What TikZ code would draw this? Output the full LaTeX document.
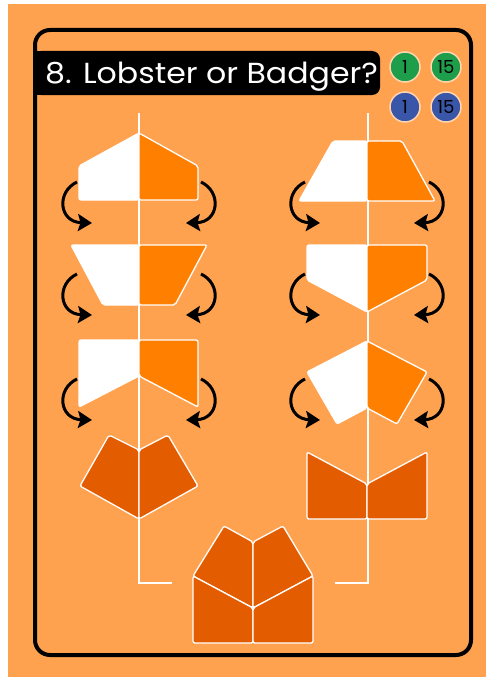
\documentclass[tikz,border=0pt]{standalone}
\usepackage{fontspec}
\setmainfont{Poppins}
\usetikzlibrary{arrows.meta}
\definecolor{cardbg}{RGB}{255,162,80}
\definecolor{halforange}{RGB}{255,128,0}
\definecolor{darkorange}{RGB}{228,92,0}
\definecolor{mygreen}{RGB}{30,158,74}
\definecolor{myblue}{RGB}{58,86,168}
\tikzstyle{whitehalf}  = [fill=white, draw=white, line width=1.3pt, rounded corners=2pt, line join=round]
\tikzstyle{orangehalf} = [fill=halforange, draw=white, line width=1.3pt, rounded corners=2pt, line join=round]
\tikzstyle{donepiece}  = [fill=darkorange, draw=white, line width=1.3pt, rounded corners=2pt, line join=round]
\tikzstyle{mirror}     = [draw=white, line width=2pt]
\tikzstyle{flip}       = [-{Stealth[length=14pt,width=17pt,inset=2.5pt]}, line width=3pt, black]
\tikzstyle{badge}      = [circle, minimum size=30pt, inner sep=0pt, draw=white!55!cardbg, line width=1.5pt]

% pair of turn arrows round a column centre #1, starting at height #2
\newcommand{\flips}[2]{%
  \draw[flip] (#1-62,#2) .. controls (#1-83,#2+10) and (#1-80,#2+40) .. (#1-47,#2+41);
  \draw[flip] (#1+62,#2) .. controls (#1+83,#2+10) and (#1+80,#2+40) .. (#1+47,#2+41);
}

\begin{document}
\begin{tikzpicture}[x=1pt, y=-1pt]
    \useasboundingbox (0,0) rectangle (486,677);
    \fill[cardbg] (8,4) rectangle (486,677);

    % title bar
    \fill[black, rounded corners=8pt] (33,51) rectangle (380,95);
    \fill[black] (33,51) rectangle (60,95);
    \node[text=white, anchor=base west, inner sep=0pt, font=\fontsize{29}{29}\selectfont] (title) at (45,83)
        {\scalebox{1.09}[1]{8. Lobster or Badger?}};

    \node[badge, fill=mygreen] (g1) at (405,67)  {\fontsize{18}{18}\selectfont 1};
    \node[badge, fill=mygreen] (g15) at (446,67) {\fontsize{18}{18}\selectfont 15};
    \node[badge, fill=myblue]  (b1) at (405,107) {\fontsize{18}{18}\selectfont 1};
    \node[badge, fill=myblue]  (b15) at (446,107) {\fontsize{18}{18}\selectfont 15};

    % mirror lines
    \draw[mirror] (139,113) -- (139,583) -- (172,583);
    \draw[mirror] (368,113) -- (368,583) -- (335,583);

    % left column
    \filldraw[whitehalf]  (139,133) -- (79,166) -- (79,200) -- (139,200) -- cycle;
    \filldraw[orangehalf] (139,133) -- (198,166) -- (198,200) -- (139,200) -- cycle;
    \flips{139}{182}

    \filldraw[whitehalf]  (139,245) -- (71,245) -- (103,305) -- (139,305) -- cycle;
    \filldraw[orangehalf] (139,245) -- (207,245) -- (175,305) -- (139,305) -- cycle;
    \flips{139}{274}

    \filldraw[whitehalf]  (139,340) -- (79,340) -- (79,407) -- (139,376) -- cycle;
    \filldraw[orangehalf] (139,340) -- (198,340) -- (198,407) -- (139,376) -- cycle;
    \flips{139}{379}

    \filldraw[donepiece] (109,435) -- (139,450) -- (139,519) -- (80,486) -- cycle;
    \filldraw[donepiece] (168,435) -- (139,450) -- (139,519) -- (198,486) -- cycle;

    % right column
    \filldraw[whitehalf]  (367,141) -- (333,141) -- (299,201) -- (367,201) -- cycle;
    \filldraw[orangehalf] (367,141) -- (402,141) -- (435,201) -- (367,201) -- cycle;
    \flips{367}{182}

    \filldraw[whitehalf]  (367,245) -- (307,245) -- (307,280) -- (367,312) -- cycle;
    \filldraw[orangehalf] (367,245) -- (427,245) -- (427,280) -- (367,312) -- cycle;
    \flips{367}{274}

    \filldraw[whitehalf]  (367,341) -- (307,372) -- (337,424) -- (367,408) -- cycle;
    \filldraw[orangehalf] (367,341) -- (427,372) -- (397,424) -- (367,408) -- cycle;
    \flips{367}{379}

    \filldraw[donepiece] (307,452) -- (367,484) -- (367,519) -- (307,519) -- cycle;
    \filldraw[donepiece] (427,452) -- (367,484) -- (367,519) -- (427,519) -- cycle;

    % both together
    \filldraw[donepiece] (224,526) -- (253,542) -- (253,608) -- (193,576) -- cycle;
    \filldraw[donepiece] (283,526) -- (253,542) -- (253,608) -- (313,576) -- cycle;
    \filldraw[donepiece] (193,576) -- (253,608) -- (253,643) -- (193,643) -- cycle;
    \filldraw[donepiece] (313,576) -- (253,608) -- (253,643) -- (313,643) -- cycle;

    % card frame
    \draw[black, line width=4pt, rounded corners=15pt] (35,30) rectangle (471,655);
\end{tikzpicture}
\end{document}
